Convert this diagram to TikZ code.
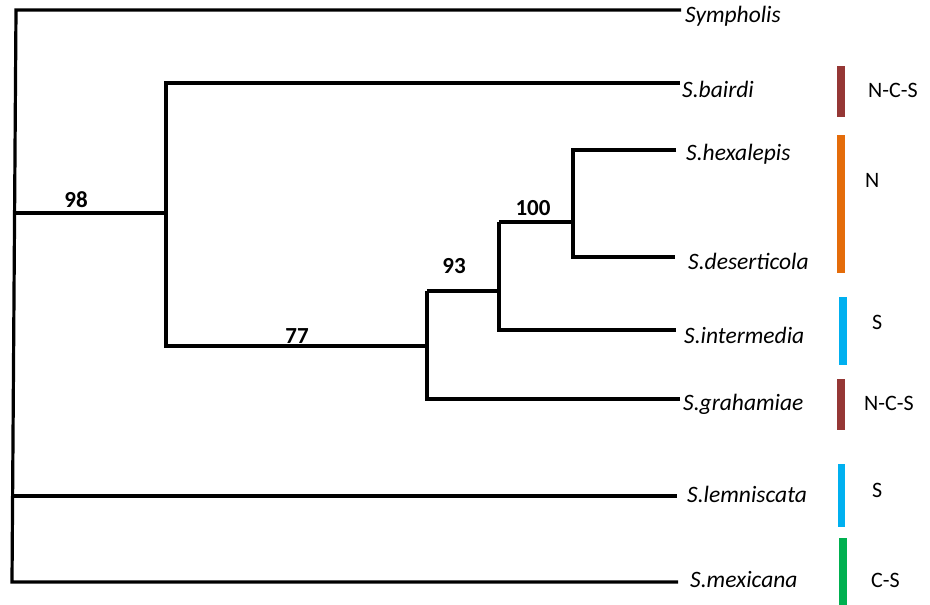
\documentclass[tikz,border=0pt]{standalone}
\usepackage{fontspec}
\setmainfont{Carlito}
\begin{document}
\begin{tikzpicture}[x=1pt,y=-1pt,
  br/.style={line width=3.2pt, line join=miter, line cap=butt},
  sp/.style={anchor=base west, inner sep=0pt, font=\fontsize{23.5}{26}\selectfont\itshape},
  bs/.style={anchor=base, inner sep=0pt, font=\fontsize{23}{25}\selectfont\bfseries},
  rg/.style={anchor=base west, inner sep=0pt, font=\fontsize{22}{24}\selectfont},
  bar/.style={line width=7.5pt, line cap=butt}]
\useasboundingbox (0,0) rectangle (930,605);
\definecolor{cbrown}{HTML}{953735}
\definecolor{corange}{HTML}{E46C0A}
\definecolor{cblue}{HTML}{00B0F0}
\definecolor{cgreen}{HTML}{00B050}
% leaf tips
\coordinate (tSym) at (681,10);
\coordinate (tBai) at (680,83);
\coordinate (tHex) at (676,150);
\coordinate (tDes) at (675,257);
\coordinate (tInt) at (676,330);
\coordinate (tGra) at (680,399);
\coordinate (tLem) at (677,496);
\coordinate (tMex) at (678,582);
% internal nodes
\coordinate (rTop) at (16,10);
\coordinate (rBot) at (12,582);
\coordinate (r98) at (14.6,213);
\coordinate (rLem) at (12.6,496);
\coordinate (nA) at (166,213);
\coordinate (nB) at (427,346);
\coordinate (nC) at (499,291);
\coordinate (nD) at (573,222);
% tree
\draw[br] (tSym) -- (rTop) -- (rBot) -- (tMex);
\draw[br] (r98) -- (nA);
\draw[br] (rLem) -- (tLem);
\draw[br] (tBai) -- (166,83) -- (166,346) -- (nB);
\draw[br] (427,291) -- (427,399) -- (tGra);
\draw[br] (427,291) -- (nC);
\draw[br] (499,222) -- (499,330) -- (tInt);
\draw[br] (499,222) -- (nD);
\draw[br] (tHex) -- (573,150) -- (573,257) -- (tDes);
% species labels
\node[sp] (lSym) at (685,22) {Sympholis};
\node[sp] (lBai) at (682,97) {S.bairdi};
\node[sp] (lHex) at (686,160) {S.hexalepis};
\node[sp] (lDes) at (688,269) {S.deserticola};
\node[sp] (lInt) at (684,343) {S.intermedia};
\node[sp] (lGra) at (683,410) {S.grahamiae};
\node[sp] (lLem) at (687,502) {S.lemniscata};
\node[sp] (lMex) at (690,587) {S.mexicana};
% bootstrap values
\node[bs] (b98) at (76,207) {98};
\node[bs] (b77) at (297,343) {77};
\node[bs] (b93) at (454,273) {93};
\node[bs] (b100) at (533,215) {100};
% region bars
\draw[bar, cbrown] (841,66) -- (841,117);
\draw[bar, corange] (841,135) -- (841,273);
\draw[bar, cblue] (843,297) -- (843,365);
\draw[bar, cbrown] (841,379) -- (841,430);
\draw[bar, cblue] (841.5,464) -- (841.5,527);
\draw[bar, cgreen] (843,538) -- (843,605);
% region labels
\node[rg] (gBai) at (868,97) {N-C-S};
\node[rg] (gHex) at (865,187) {N};
\node[rg] (gInt) at (872,329) {S};
\node[rg] (gGra) at (864,410) {N-C-S};
\node[rg] (gLem) at (872,497) {S};
\node[rg] (gMex) at (871,587) {C-S};
\end{tikzpicture}
\end{document}
